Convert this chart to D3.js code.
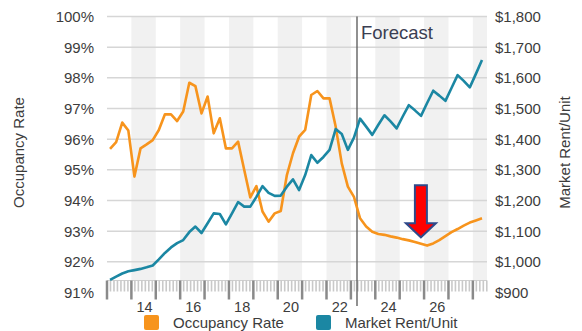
<!DOCTYPE html>
<html>
<head>
<meta charset="utf-8">
<script src="https://cdn.jsdelivr.net/npm/d3@7"></script>
<style>
    body { margin: 0; background: #fff; }
    svg { display: block; font-family: "Liberation Sans", Arial, sans-serif; }
</style>
</head>
<body>
<svg id="chart" width="582" height="331"></svg>
<script>
// ---- Data (quarterly, 2013 Q1 - 2028 Q2) ----
const quarters = [];
for (let y = 2013; y <= 2028; y++) {
    for (let q = 1; q <= 4; q++) {
        if (y === 2028 && q > 2) break;
        quarters.push(y + "Q" + q);
    }
}

const occupancy = [
    95.68, 95.90, 96.54, 96.28,
    94.78, 95.70, 95.83, 95.97,
    96.30, 96.81, 96.81, 96.59,
    96.90, 97.84, 97.73, 96.84,
    97.39, 96.19, 96.68, 95.70,
    95.70, 95.92, 95.00, 94.10,
    94.47, 93.64, 93.31, 93.58,
    93.66, 94.83, 95.54, 96.08,
    96.30, 97.44, 97.57, 97.33,
    97.33, 96.41, 95.21, 94.45,
    94.12, 93.42, 93.15, 92.98,
    92.91, 92.88, 92.83, 92.79,
    92.74, 92.70, 92.65, 92.59,
    92.53, 92.60, 92.71, 92.84,
    92.97, 93.07, 93.18, 93.28,
    93.35, 93.42
];

const rent = [
    941, 952, 962, 969,
    973, 977, 982, 988,
    1008, 1029, 1047, 1061,
    1071, 1097, 1115, 1094,
    1126, 1158, 1156, 1122,
    1158, 1195, 1180, 1180,
    1212, 1247, 1225, 1215,
    1216, 1245, 1269, 1234,
    1283, 1348, 1323, 1342,
    1365, 1433, 1417, 1365,
    1405, 1467, 1441, 1414,
    1447, 1478, 1458, 1435,
    1474, 1511, 1494, 1476,
    1518, 1558, 1542, 1525,
    1567, 1609, 1590, 1569,
    1613, 1658
];

const occTicks = [91, 92, 93, 94, 95, 96, 97, 98, 99, 100];
const rentTicks = [900, 1000, 1100, 1200, 1300, 1400, 1500, 1600, 1700, 1800];
const yearLabels = [14, 16, 18, 20, 22, 24, 26];
const forecastStart = 2023.25;
const arrowTip = { year: 2025.87, occ: 92.8 };

const seriesNames = ["Occupancy Rate", "Market Rent/Unit"];
const colors = { occ: "#f7941d", rent: "#1b87a3" };
const textColor = "#3c3c3c";

// ---- Scales ----
const svg = d3.select("#chart");
const plotLeft = 107, plotRight = 487, plotTop = 16.5, plotBottom = 292.5;

const xScale = d3.scaleLinear().domain([2013, 2028.58]).range([plotLeft, plotRight]);
const yOcc = d3.scaleLinear().domain([91, 100]).range([plotBottom, plotTop]);
const yRent = d3.scaleLinear().domain([900, 1800]).range([plotBottom, plotTop]);

const qYear = s => +s.slice(0, 4) + (+s.slice(5) - 0.5) / 4;
const axisTop = yOcc(91) - 12;

// ---- Shaded year bands ----
const evenYears = d3.range(2014, 2029, 2);
svg.append("g")
    .selectAll("rect")
    .data(evenYears)
    .join("rect")
    .attr("x", d => xScale(d))
    .attr("y", yOcc(100))
    .attr("width", d => Math.min(xScale(d + 1), plotRight) - xScale(d))
    .attr("height", axisTop - yOcc(100))
    .attr("fill", "#f1f1f1");

// ---- Grid lines ----
svg.append("g")
    .selectAll("line")
    .data(occTicks.filter(d => d > 91))
    .join("line")
    .attr("x1", plotLeft)
    .attr("x2", plotRight)
    .attr("y1", d => yOcc(d))
    .attr("y2", d => yOcc(d))
    .attr("stroke", "#d6d6d6")
    .attr("stroke-width", 1.5);

// ---- Left axis labels ----
svg.append("g")
    .selectAll("text")
    .data(occTicks)
    .join("text")
    .attr("x", 94)
    .attr("y", d => yOcc(d))
    .attr("dy", "0.36em")
    .attr("text-anchor", "end")
    .attr("font-size", 15)
    .attr("fill", textColor)
    .text(d => d + "%");

// ---- Right axis labels ----
svg.append("g")
    .selectAll("text")
    .data(rentTicks)
    .join("text")
    .attr("x", 495)
    .attr("y", d => yRent(d))
    .attr("dy", "0.36em")
    .attr("font-size", 15)
    .attr("fill", textColor)
    .text(d => d3.format("$,")(d));

// ---- Axis titles ----
svg.append("text")
    .attr("transform", `translate(24,${(plotTop + plotBottom) / 2 - 2}) rotate(-90)`)
    .attr("text-anchor", "middle")
    .attr("font-size", 15)
    .attr("fill", textColor)
    .text(seriesNames[0]);

svg.append("text")
    .attr("transform", `translate(570,${(plotTop + plotBottom) / 2 - 2}) rotate(-90)`)
    .attr("text-anchor", "middle")
    .attr("font-size", 15)
    .attr("fill", textColor)
    .text(seriesNames[1]);

// ---- X axis band with ticks ----
const xAxis = svg.append("g");
xAxis.append("line")
    .attr("x1", plotLeft).attr("x2", plotRight)
    .attr("y1", axisTop).attr("y2", axisTop)
    .attr("stroke", "#cfcfcf").attr("stroke-width", 1);

const minorTicks = [];
d3.range(2013, 2029).forEach(y => {
    for (let k = 1; k <= 6; k++) minorTicks.push(y + k / 7);
});
xAxis.selectAll(".minor")
    .data(minorTicks.filter(d => xScale(d) < plotRight))
    .join("line")
    .attr("class", "minor")
    .attr("x1", d => xScale(d)).attr("x2", d => xScale(d))
    .attr("y1", axisTop).attr("y2", axisTop + 11)
    .attr("stroke", "#c9c9c9").attr("stroke-width", 1.6);

xAxis.selectAll(".major")
    .data(d3.range(2013, 2029))
    .join("line")
    .attr("class", "major")
    .attr("x1", d => xScale(d)).attr("x2", d => xScale(d))
    .attr("y1", axisTop).attr("y2", axisTop + 19)
    .attr("stroke", "#8a8a8a").attr("stroke-width", 2.5);

xAxis.selectAll("text")
    .data(yearLabels)
    .join("text")
    .attr("x", d => xScale(2000 + d + 0.5) + 1)
    .attr("y", 311.5)
    .attr("text-anchor", "middle")
    .attr("font-size", 14.5)
    .attr("fill", textColor)
    .text(d => d);

// ---- Forecast divider ----
svg.append("line")
    .attr("x1", xScale(forecastStart)).attr("x2", xScale(forecastStart))
    .attr("y1", yOcc(100)).attr("y2", 306)
    .attr("stroke", "#555").attr("stroke-width", 1.3);

svg.append("text")
    .attr("x", xScale(forecastStart) + 4)
    .attr("y", 38.5)
    .attr("font-size", 18.5)
    .attr("fill", "#3b3e52")
    .text("Forecast");

// ---- Lines ----
const occLine = d3.line()
    .x((d, i) => xScale(qYear(quarters[i])))
    .y(d => yOcc(d));

const rentLine = d3.line()
    .x((d, i) => xScale(qYear(quarters[i])))
    .y(d => yRent(d));

svg.append("path")
    .datum(occupancy)
    .attr("d", occLine)
    .attr("fill", "none")
    .attr("stroke", colors.occ)
    .attr("stroke-width", 2.6)
    .attr("stroke-linejoin", "round");

svg.append("path")
    .datum(rent)
    .attr("d", rentLine)
    .attr("fill", "none")
    .attr("stroke", colors.rent)
    .attr("stroke-width", 2.6)
    .attr("stroke-linejoin", "round");

// ---- Red arrow annotation ----
const ax = xScale(arrowTip.year), ay = yOcc(arrowTip.occ);
const arrowPath = d3.path();
arrowPath.moveTo(ax - 6, ay - 52);
arrowPath.lineTo(ax + 6, ay - 52);
arrowPath.lineTo(ax + 6, ay - 14);
arrowPath.lineTo(ax + 15, ay - 14);
arrowPath.lineTo(ax, ay);
arrowPath.lineTo(ax - 15, ay - 14);
arrowPath.lineTo(ax - 6, ay - 14);
arrowPath.closePath();
svg.append("path")
    .attr("d", arrowPath.toString())
    .attr("fill", "#ff0000")
    .attr("stroke", "#2f4a8a")
    .attr("stroke-width", 2)
    .attr("stroke-linejoin", "miter");

// ---- Legend ----
const legend = svg.append("g");
const legendItems = [
    { name: seriesNames[0], color: colors.occ, x: 144 },
    { name: seriesNames[1], color: colors.rent, x: 316 }
];
legend.selectAll("rect")
    .data(legendItems)
    .join("rect")
    .attr("x", d => d.x)
    .attr("y", 315)
    .attr("width", 15)
    .attr("height", 15)
    .attr("rx", 2)
    .attr("fill", d => d.color);

legend.selectAll("text")
    .data(legendItems)
    .join("text")
    .attr("x", d => d.x + 29)
    .attr("y", 328)
    .attr("font-size", 15)
    .attr("fill", textColor)
    .text(d => d.name);
</script>
</body>
</html>
